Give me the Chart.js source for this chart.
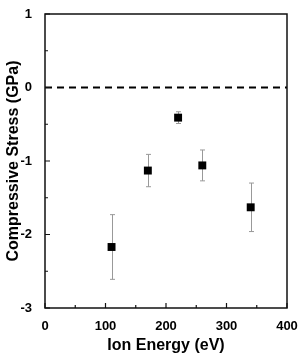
<!DOCTYPE html>
<html>
<head>
<meta charset="utf-8">
<script src="https://cdn.jsdelivr.net/npm/chart.js@4/dist/chart.umd.min.js"></script>
<style>
  html, body { margin: 0; padding: 0; background: #fff; }
  #wrap { width: 301px; height: 356px; }
</style>
</head>
<body>
<div id="wrap"><canvas id="stressChart" width="301" height="356"></canvas></div>
<script>
// data
const ionEnergy = [110, 170, 220, 260, 340];
const stress = [-2.17, -1.13, -0.41, -1.06, -1.63];
const stressErr = [0.44, 0.22, 0.08, 0.21, 0.33];
const xTicks = [0, 100, 200, 300, 400];
const yTicks = [-3, -2, -1, 0, 1];

const points = ionEnergy.map((x, i) => ({ x: x, y: stress[i] }));

// error bars + frame + inside ticks
const extras = {
  id: 'extras',
  beforeDatasetsDraw(chart) {
    const ctx = chart.ctx;
    const xs = chart.scales.x, ys = chart.scales.y;
    ctx.save();
    ctx.strokeStyle = '#999';
    ctx.lineWidth = 1;
    ionEnergy.forEach((x, i) => {
      const px = Math.round(xs.getPixelForValue(x)) + 0.5;
      const top = ys.getPixelForValue(stress[i] + stressErr[i]);
      const bot = ys.getPixelForValue(stress[i] - stressErr[i]);
      ctx.beginPath();
      ctx.moveTo(px, top); ctx.lineTo(px, bot);
      ctx.moveTo(px - 2.5, top); ctx.lineTo(px + 2.5, top);
      ctx.moveTo(px - 2.5, bot); ctx.lineTo(px + 2.5, bot);
      ctx.stroke();
    });
    ctx.restore();
  },
  afterDraw(chart) {
    const ctx = chart.ctx;
    const a = chart.chartArea;
    const xs = chart.scales.x, ys = chart.scales.y;
    ctx.save();
    ctx.strokeStyle = '#111';
    ctx.lineWidth = 1.5;
    ctx.strokeRect(a.left, a.top, a.right - a.left, a.bottom - a.top);
    ctx.lineWidth = 1.2;
    ctx.beginPath();
    for (let v = 0; v <= 400; v += 50) {
      const px = xs.getPixelForValue(v);
      const len = v % 100 === 0 ? 5 : 3;
      ctx.moveTo(px, a.bottom); ctx.lineTo(px, a.bottom - len);
    }
    for (let v = -3; v <= 1; v += 0.5) {
      const py = ys.getPixelForValue(v);
      const len = Number.isInteger(v) ? 5 : 3;
      ctx.moveTo(a.left, py); ctx.lineTo(a.left + len, py);
    }
    ctx.stroke();
    ctx.restore();
  }
};

const font = { family: '"Liberation Sans", Arial, sans-serif', weight: 'bold', size: 13 };
const titleFont = { family: font.family, weight: 'bold', size: 16 };

new Chart(document.getElementById('stressChart'), {
  type: 'scatter',
  data: {
    datasets: [
      {
        label: 'zero',
        type: 'line',
        data: [{ x: 0, y: 0 }, { x: 400, y: 0 }],
        borderColor: '#000',
        borderWidth: 2,
        borderDash: [7, 5],
        pointRadius: 0
      },
      {
        label: 'stress',
        data: points,
        pointStyle: 'rect',
        pointRadius: 5.6,
        backgroundColor: '#000',
        borderColor: '#000',
        borderWidth: 0
      }
    ]
  },
  options: {
    responsive: false,
    animation: false,
    layout: { padding: { top: 14, right: 14, left: 0, bottom: 0 } },
    plugins: { legend: { display: false }, tooltip: { enabled: false } },
    scales: {
      x: {
        type: 'linear',
        min: 0, max: 400,
        afterBuildTicks: s => { s.ticks = xTicks.map(v => ({ value: v })); },
        afterFit: s => { s.height = 48; },
        grid: { display: false },
        border: { display: false },
        ticks: { color: '#000', font: font, padding: 3, maxRotation: 0 },
        title: { display: true, text: 'Ion Energy (eV)', color: '#000',
                 font: titleFont, padding: { top: 2, bottom: 1 } }
      },
      y: {
        type: 'linear',
        min: -3, max: 1,
        afterBuildTicks: s => { s.ticks = yTicks.map(v => ({ value: v })); },
        afterFit: s => { s.width = 45; },
        grid: { display: false },
        border: { display: false },
        ticks: { color: '#000', font: font, padding: 5 },
        title: { display: true, text: 'Compressive Stress (GPa)', color: '#000',
                 font: titleFont, padding: { bottom: 1 } }
      }
    }
  },
  plugins: [extras]
});
</script>
</body>
</html>
